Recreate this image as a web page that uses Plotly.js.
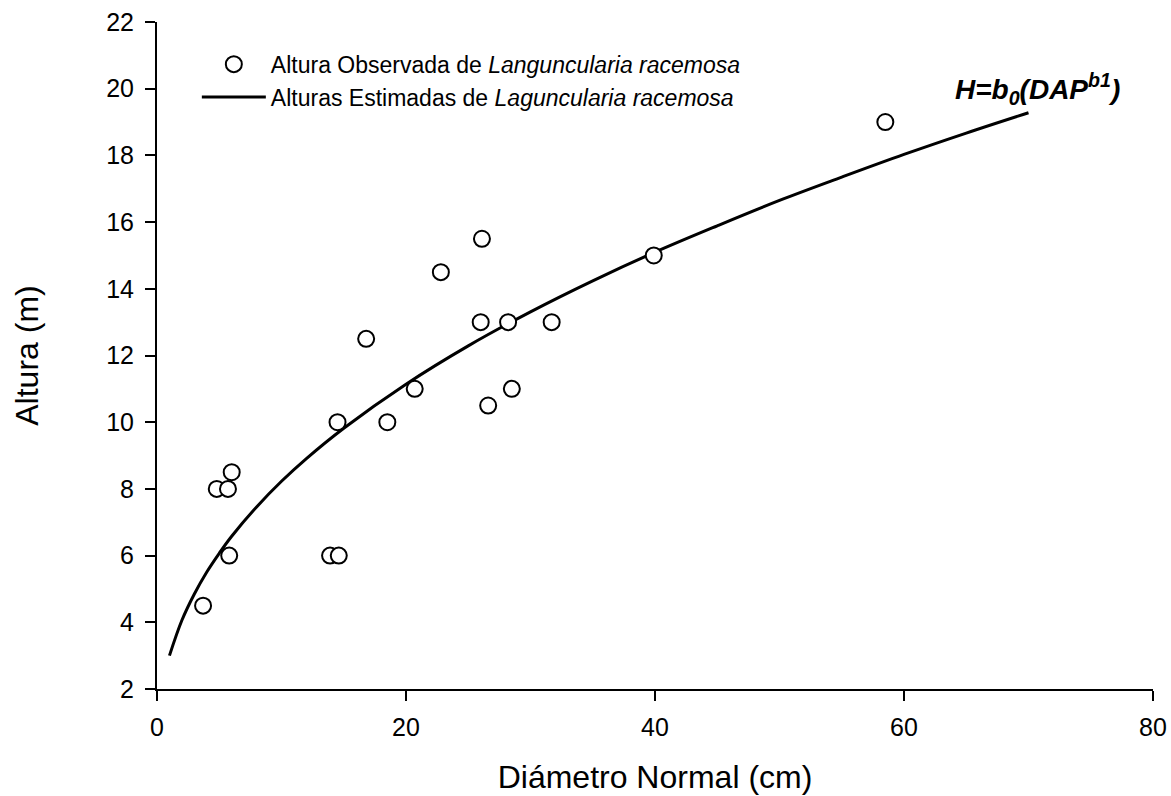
<!DOCTYPE html>
<html>
<head>
<meta charset="utf-8">
<script src="https://cdn.plot.ly/plotly-3.0.1.min.js"></script>
<style>
html, body { margin: 0; padding: 0; background: #fff; }
#chart { width: 1171px; height: 796px; }
</style>
</head>
<body>
<div id="chart"></div>
<script>
const dapObs = [3.7, 4.8, 5.7, 6.0, 5.8, 13.9, 14.6, 14.5, 16.8, 18.5, 20.7, 22.8, 26.1, 26.0, 26.6, 28.2, 28.5, 31.7, 39.9, 58.5];
const alturaObs = [4.5, 8.0, 8.0, 8.5, 6.0, 6.0, 6.0, 10.0, 12.5, 10.0, 11.0, 14.5, 15.5, 13.0, 10.5, 13.0, 11.0, 13.0, 15.0, 19.0];

// Estimated heights curve
const dapEst = [1, 2, 3, 4, 5, 6, 8, 10, 12, 15, 20, 25, 30, 35, 40, 45, 50, 55, 60, 65, 70];
const alturaEst = [3.0, 4.06, 4.85, 5.51, 6.07, 6.58, 7.46, 8.23, 8.91, 9.82, 11.14, 12.29, 13.31, 14.24, 15.10, 15.89, 16.65, 17.35, 18.03, 18.67, 19.28];

const xTicks = [0, 20, 40, 60, 80];
const yTicks = [2, 4, 6, 8, 10, 12, 14, 16, 18, 20, 22];

const FONT = "Liberation Sans, Arial, sans-serif";

const traces = [
  {
    x: dapEst, y: alturaEst,
    type: "scatter", mode: "lines",
    name: "Alturas Estimadas de <i>Laguncularia racemosa</i>",
    line: { color: "#000", width: 3, shape: "spline" }
  },
  {
    x: dapObs, y: alturaObs,
    type: "scatter", mode: "markers",
    name: "Altura Observada de <i>Languncularia racemosa</i>",
    marker: { symbol: "circle", size: 16, color: "#fff", line: { color: "#000", width: 2 } }
  }
];

const layout = {
  width: 1171, height: 796,
  paper_bgcolor: "#fff", plot_bgcolor: "#fff",
  margin: { l: 157, r: 18, t: 22, b: 107 },
  font: { family: FONT, color: "#000" },
  showlegend: true,
  legend: {
    x: 0.040, y: 0.969, xanchor: "left", yanchor: "top",
    traceorder: "reversed",
    font: { size: 23, family: FONT, color: "#000" },
    bgcolor: "rgba(0,0,0,0)",
    tracegroupgap: 0, itemwidth: 64
  },
  xaxis: {
    range: [0, 80], tickvals: xTicks, ticktext: xTicks.map(String),
    showgrid: false, zeroline: false,
    showline: true, linecolor: "#000", linewidth: 2,
    ticks: "outside", ticklen: 10, tickwidth: 2, tickcolor: "#000",
    ticklabelstandoff: 5,
    tickfont: { size: 25, family: FONT },
    title: { text: "Diámetro Normal (cm)", font: { size: 32, family: FONT }, standoff: 26 }
  },
  yaxis: {
    range: [2, 22], tickvals: yTicks, ticktext: yTicks.map(String),
    showgrid: false, zeroline: false,
    showline: true, linecolor: "#000", linewidth: 2,
    ticks: "outside", ticklen: 10, tickwidth: 2, tickcolor: "#000",
    ticklabelstandoff: 6,
    tickfont: { size: 25, family: FONT },
    title: { text: "Altura (m)", font: { size: 32, family: FONT }, standoff: 58 }
  },
  annotations: [
    {
      x: 70.7, y: 20.0, xref: "x", yref: "y",
      text: "<b><i>H=b<sub>0</sub>(DAP<sup>b1</sup>)</i></b>",
      showarrow: false, xanchor: "center", yanchor: "middle",
      font: { size: 28, family: FONT, color: "#000" }
    }
  ]
};

Plotly.newPlot("chart", traces, layout, { displayModeBar: false, staticPlot: true });
</script>
</body>
</html>
